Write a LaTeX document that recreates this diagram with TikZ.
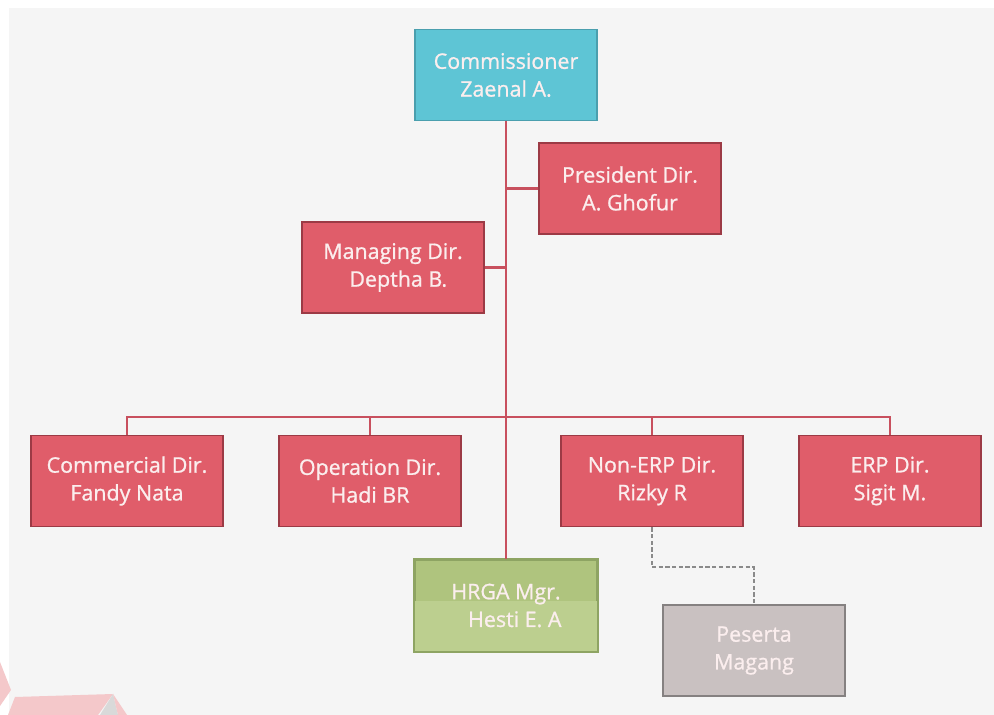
\documentclass[tikz,border=0pt]{standalone}
\usepackage{fontspec}
\setmainfont{Open Sans}[FakeBold=1.2]
\newfontfamily\boxfont{Open Sans}[FakeBold=1.0]
\begin{document}
\definecolor{pagebg}{HTML}{F5F5F5}
\definecolor{redfill}{HTML}{E05D6A}
\definecolor{redline}{HTML}{9C3A45}
\definecolor{wire}{HTML}{C8505E}
\definecolor{cyanfill}{HTML}{5EC5D5}
\definecolor{cyanline}{HTML}{4A9FAE}
\definecolor{greenfill}{HTML}{AFC47E}
\definecolor{greenlight}{HTML}{BCCF8F}
\definecolor{greenline}{HTML}{8EA463}
\definecolor{greyfill}{HTML}{C9C1C1}
\definecolor{greyline}{HTML}{858181}
\definecolor{dashgrey}{HTML}{8A8A8A}
\definecolor{boxtext}{HTML}{FBEEEE}
\definecolor{markpink}{HTML}{F4C8CA}
\definecolor{markgrey}{HTML}{D9D9D9}
\begin{tikzpicture}[x=0.02cm,y=-0.02cm,
  unit/.style={draw, line width=1.1pt, minimum width=3.64cm, minimum height=1.82cm,
    align=center, text=boxtext, inner sep=0pt,
    font=\boxfont\fontsize{12.2}{15.8}\selectfont},
  dirbox/.style={unit, fill=redfill, draw=redline},
  topbox/.style={unit, fill=cyanfill, draw=cyanline},
  hrbox/.style={unit, fill=greenfill, draw=greenline},
  internbox/.style={unit, fill=greyfill, draw=greyline},
  link/.style={draw=wire, line width=1.2pt},
  softlink/.style={draw=dashgrey, line width=1.1pt, dash pattern=on 2.4pt off 1.4pt}]

% page and canvas
\fill[white] (0,0) rectangle (994,715);
\fill[pagebg] (9,8) rectangle (994,715);
\useasboundingbox (0,0) rectangle (994,715);

% faint logo in the lower left corner
\fill[markpink] (0,662) -- (11,690) -- (0,706) -- cycle;
\fill[markpink] (15,697) -- (113,694) -- (98,715) -- (8,715) -- cycle;
\fill[markgrey] (113,694) -- (100,715) -- (118,715) -- cycle;
\fill[markpink] (113,694) -- (127,715) -- (118,715) -- cycle;

% boxes
\node[topbox] (comm) at (506,75) {Commissioner\\Zaenal A.};
\node[dirbox] (pres) at (630,188.5) {President Dir.\\A. Ghofur};
\node[dirbox] (mng) at (393,267.5) {Managing Dir.\\\hspace*{6pt}Deptha B.};
\node[dirbox, minimum width=3.84cm] (cmd) at (127,481) {Commercial Dir.\\Fandy Nata};
\node[dirbox] (opd) at (370,481) {Operation Dir.\\Hadi BR};
\node[dirbox] (nerp) at (652,481) {Non-ERP Dir.\\Rizky R};
\node[dirbox] (erp) at (890,481) {ERP Dir.\\Sigit M.};
\node[hrbox] (hrga) at (506,605.5) {};
\node[internbox] (intern) at (754,650.5) {Peserta\\Magang};

% two-tone face of the HRGA box
\fill[greenlight] ([xshift=0.55pt]hrga.west |- 0,601) rectangle ([xshift=-0.55pt,yshift=0.55pt]hrga.south east);
\draw[greenline, line width=1.1pt] (hrga.south west) rectangle (hrga.north east);
\node[unit, draw=none, text=boxtext] at (hrga) {HRGA Mgr.\\\hspace*{10pt}Hesti E. A};

% reporting lines
\coordinate (busL) at (127,417);
\draw[link] (comm.south) -- (hrga.north);
\draw[link] (pres.west) -- (pres.west -| comm.south);
\draw[link] (mng.east) -- (mng.east -| comm.south);
\draw[link] (cmd.north) |- (busL) -| (erp.north);
\draw[link] (opd.north) -- (opd.north |- busL);
\draw[link] (nerp.north) -- (nerp.north |- busL);
\draw[softlink] (nerp.south) -- ++(0,40) -| (intern.north);
\end{tikzpicture}
\end{document}
